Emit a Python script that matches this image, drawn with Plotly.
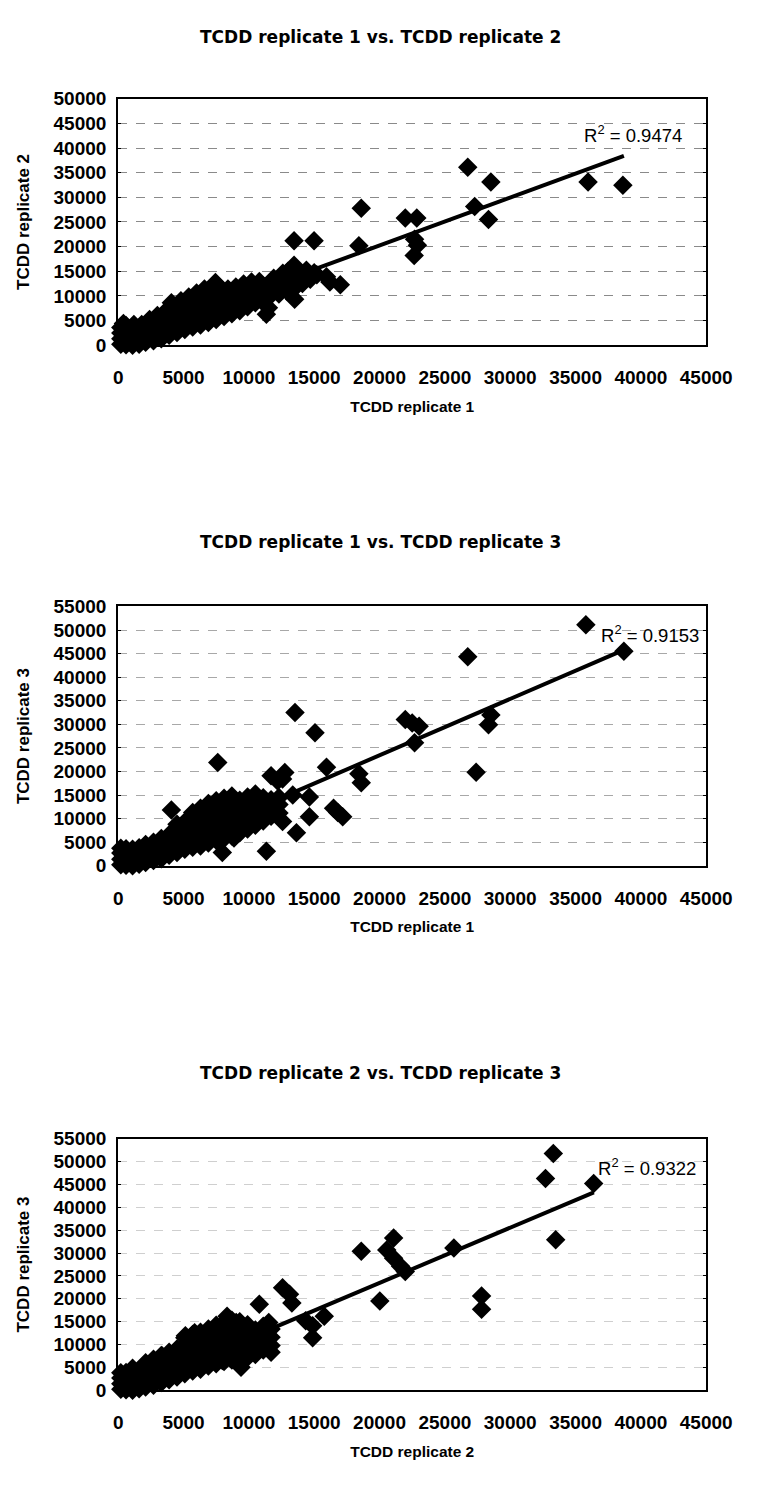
import plotly.graph_objects as go

W, H = 761, 1487

# ---------------- data ----------------
titles = ["TCDD replicate 1 vs. TCDD replicate 2",
          "TCDD replicate 1 vs. TCDD replicate 3",
          "TCDD replicate 2 vs. TCDD replicate 3"]
x_titles = ["TCDD replicate 1", "TCDD replicate 1", "TCDD replicate 2"]
y_titles = ["TCDD replicate 2", "TCDD replicate 3", "TCDD replicate 3"]
r2_values = ["0.9474", "0.9153", "0.9322"]
x_max = [45000, 45000, 45000]
y_max = [50000, 55000, 55000]

# replicate 1 (x) vs replicate 2 (y)
rep1_vs_rep2 = [
    (200, 200), (200, 1300), (200, 2500), (200, 3600), (400, 4400),
    (600, 100), (600, 1100), (600, 2200), (600, 3300), (600, 4000),
    (1100, 0), (1100, 900), (1100, 2000), (1100, 3200), (1200, 4200),
    (1600, 200), (1600, 1300), (1600, 2600), (1800, 4200),
    (2100, 600), (2100, 1700), (2100, 2900), (2100, 3900), (2400, 5200),
    (2700, 900), (2700, 2100), (2700, 3300), (2700, 4500), (3000, 6000),
    (3300, 1300), (3300, 2600), (3300, 3800), (3300, 5200), (3600, 6800),
    (3900, 2000), (3900, 3200), (3900, 4600), (3900, 6200), (4070, 8600),
    (4500, 2600), (4500, 3800), (4500, 5100), (4500, 6600), (4500, 7600), (4800, 9000),
    (5100, 3200), (5100, 4400), (5100, 5800), (5100, 7200), (5100, 8600), (5400, 9800),
    (5700, 3700), (5700, 5000), (5700, 6300), (5700, 7700), (5700, 9400), (6000, 10600),
    (6300, 4100), (6300, 5500), (6300, 6900), (6300, 8300), (6300, 9900), (6600, 11400),
    (6900, 4600), (6900, 6000), (6900, 7400), (6900, 8800), (6900, 10500), (7200, 11800),
    (7500, 5200), (7500, 6600), (7500, 8000), (7500, 9500), (7500, 11000), (7440, 12700),
    (8100, 5800), (8100, 7200), (8100, 8600), (8100, 10000), (7800, 11600),
    (8700, 6400), (8700, 7800), (8700, 9200), (8700, 10500), (8400, 11400),
    (9300, 7000), (9300, 8400), (9300, 9800), (9300, 11200), (9000, 11800),
    (9900, 7800), (9900, 9200), (9900, 10600), (9900, 11800), (9600, 12400),
    (10500, 8600), (10500, 10000), (10500, 11300), (10300, 12200), (10200, 12800),
    (11100, 9400), (11100, 10700), (11100, 12000), (10800, 12900),
    (11700, 10200), (11700, 11500), (11700, 12800), (11900, 13600),
    (12300, 10400), (12300, 11800), (12300, 13200), (12600, 14600),
    (12900, 11000), (12900, 12400), (12900, 13800), (13000, 15000),
    (13500, 9300), (13500, 11600), (13500, 13000), (13500, 14600), (13500, 15700),
    (14100, 12500), (14100, 14000), (14400, 15200), (14700, 13400), (15000, 14700),
    (11340, 6290), (11500, 7600), (13460, 16200), (13640, 14900), (15200, 14300),
    (15940, 13900), (16200, 12800), (17000, 12250), (18420, 20200), (13460, 21200),
    (14990, 21200), (18600, 27800), (21970, 25800), (22850, 25800), (22680, 21500),
    (22900, 20300), (22650, 18200), (26750, 36100), (28520, 33100), (27280, 28140),
    (28340, 25490), (35960, 33100), (38620, 32440),
]

# replicate 1 (x) vs replicate 3 (y)
rep1_vs_rep3 = [
    (200, 200), (200, 1400), (200, 2700), (200, 3700),
    (600, 100), (600, 1200), (600, 2400), (600, 3600),
    (1100, 0), (1100, 1000), (1100, 2200), (1100, 3500),
    (1600, 300), (1600, 1500), (1600, 2800), (1600, 3800),
    (2100, 700), (2100, 1900), (2100, 3200), (2100, 4500),
    (2700, 1100), (2700, 2400), (2700, 3700), (2700, 5000),
    (3300, 1500), (3300, 2900), (3300, 4300), (3300, 5800),
    (3900, 2200), (3900, 3600), (3900, 5000), (3900, 6600), (4070, 11800),
    (4500, 2800), (4500, 4200), (4500, 5700), (4500, 7300), (4500, 8800),
    (5100, 3500), (5100, 4900), (5100, 6400), (5100, 8000), (5100, 9300),
    (5700, 3900), (5700, 5400), (5700, 7000), (5700, 8700), (5700, 10000), (5700, 11300),
    (6300, 4200), (6300, 5900), (6300, 7600), (6300, 9300), (6300, 10800), (6300, 12200),
    (6900, 4800), (6900, 6500), (6900, 8200), (6900, 9900), (6900, 11600), (6900, 13200),
    (7500, 5400), (7500, 7100), (7500, 8800), (7500, 10500), (7500, 12200), (7500, 13800),
    (8100, 5800), (8100, 7600), (8100, 9400), (8100, 11100), (8100, 12800), (8100, 14300),
    (8700, 6300), (8700, 8100), (8700, 9900), (8700, 11700), (8700, 13300), (8700, 14800),
    (9300, 7000), (9300, 8800), (9300, 10500), (9300, 12300), (9300, 13900),
    (9900, 7800), (9900, 9500), (9900, 11200), (9900, 12900), (9900, 14600),
    (10500, 8600), (10500, 10300), (10500, 12000), (10500, 13600), (10500, 15200),
    (11100, 9500), (11100, 11200), (11100, 12900), (11100, 14400),
    (11700, 10500), (11700, 12200), (11700, 14000),
    (12300, 11200), (12300, 13000), (12300, 14500),
    (7970, 2800), (8860, 5900), (11340, 3100), (13640, 7000), (12580, 9400),
    (14630, 10400), (16480, 12200), (17180, 10400), (16800, 11300), (13360, 15000),
    (14630, 14600), (12750, 19800), (11700, 19100), (12580, 18400), (12200, 18000),
    (15940, 20900), (18420, 19500), (18600, 17600), (7620, 21900), (15060, 28200),
    (13530, 32500), (21970, 31000), (22500, 30300), (23030, 29600), (22680, 26100),
    (26750, 44340), (27390, 19840), (28520, 32000), (28340, 29900), (35790, 51100),
    (38700, 45500),
]

# replicate 2 (x) vs replicate 3 (y)
rep2_vs_rep3 = [
    (200, 200), (200, 1400), (200, 2700), (200, 3800),
    (600, 100), (600, 1300), (600, 2600), (600, 3900),
    (1100, 0), (1100, 1200), (1100, 2500), (1100, 3800), (1100, 4800),
    (1600, 300), (1600, 1600), (1600, 2900), (1600, 4200),
    (2100, 700), (2100, 2000), (2100, 3400), (2100, 4800), (2100, 6000),
    (2700, 1100), (2700, 2500), (2700, 3900), (2700, 5400), (2700, 6800),
    (3300, 1700), (3300, 3100), (3300, 4600), (3300, 6100), (3300, 7600),
    (3900, 2300), (3900, 3700), (3900, 5200), (3900, 6800), (3900, 8300),
    (4500, 2900), (4500, 4400), (4500, 5900), (4500, 7500), (4500, 9000),
    (5100, 3600), (5100, 5100), (5100, 6700), (5100, 8300), (5100, 9900), (5100, 11500),
    (5700, 4200), (5700, 5700), (5700, 7300), (5700, 8900), (5700, 10500), (5700, 12200),
    (6300, 4600), (6300, 6200), (6300, 7800), (6300, 9500), (6300, 11100), (6300, 12700),
    (6900, 5300), (6900, 6900), (6900, 8500), (6900, 10100), (6900, 11800), (6900, 13400),
    (7500, 5800), (7500, 7400), (7500, 9100), (7500, 10800), (7500, 12500), (7500, 14200),
    (8100, 6300), (8100, 8000), (8100, 9700), (8100, 11400), (8100, 13100), (8100, 14800),
    (8700, 6600), (8700, 8400), (8700, 10200), (8700, 12000), (8700, 13700), (8700, 15300),
    (9300, 6000), (9300, 8000), (9300, 9900), (9300, 11800), (9300, 13600), (9300, 15000),
    (9900, 7200), (9900, 9000), (9900, 10800), (9900, 12600), (9900, 14300),
    (10500, 7800), (10500, 9600), (10500, 11400), (10500, 13200),
    (11100, 8800), (11100, 10600), (11100, 12400), (11100, 14000),
    (11700, 9800), (11700, 11600), (11700, 13400),
    (33300, 51800), (32700, 46300), (33480, 32900), (36390, 45200), (25690, 31100),
    (27810, 20600), (27810, 17700), (20020, 19500), (18600, 30400), (21080, 33300),
    (20550, 30700), (21080, 28900), (21610, 27100), (21970, 26000), (12580, 22400),
    (13110, 21000), (13290, 19100), (10800, 18800), (15770, 16200), (14880, 14100),
    (14880, 11500), (14350, 15200), (11520, 14800), (11700, 8300), (9400, 5000),
    (7970, 6500), (3370, 7500), (5850, 12600), (5140, 11900), (8330, 16200),
    (9030, 14800), (6900, 8300),
]
panel_data = [rep1_vs_rep2, rep1_vs_rep3, rep2_vs_rep3]

# linear trend line end points
trend_x = [[0, 38700], [0, 38700], [0, 36400]]
trend_y = [[800, 38400], [-500, 45800], [-700, 43300]]

# ---------------- layout (pixels) ----------------
plot_left, plot_right = 118, 731
plot_tops = [90, 605, 1145]
plot_bottoms = [340, 868, 1400]
title_ys = [27, 540, 1078]
r2_pos = [(708, 126), (726, 633), (722, 1174)]
grid_colors = ["#8a8a8a", "#a8a8a8", "#cfcfcf"]

FONT = "Liberation Sans, Arial, sans-serif"
TITLE_FONT = "DejaVu Sans, sans-serif"

def px_x(p):
    return p / W

def px_y(p):
    return 1 - p / H

fig = go.Figure()
annotations = []
layout = {}
for i in range(3):
    sfx = "" if i == 0 else str(i + 1)
    xs = [p[0] for p in panel_data[i]]
    ys = [p[1] for p in panel_data[i]]
    fig.add_trace(go.Scatter(
        x=xs, y=ys, mode="markers", xaxis="x" + sfx, yaxis="y" + sfx,
        marker=dict(symbol="diamond", size=15, color="black", line=dict(width=0)),
        cliponaxis=False, showlegend=False, hoverinfo="x+y"))
    fig.add_trace(go.Scatter(
        x=trend_x[i], y=trend_y[i], mode="lines", xaxis="x" + sfx, yaxis="y" + sfx,
        line=dict(color="black", width=4), cliponaxis=True, showlegend=False))

    layout["xaxis" + sfx] = dict(
        domain=[px_x(plot_left), px_x(plot_right)], anchor="y" + sfx,
        range=[0, x_max[i]], dtick=5000, tick0=0, showgrid=False, zeroline=False,
        showline=True, linecolor="black", linewidth=2, mirror=True, ticks="",
        tickformat="d", ticklabelstandoff=14,
        tickfont=dict(family=FONT, size=19, color="black", weight="bold"),
        title=dict(text="<b>" + x_titles[i] + "</b>", standoff=14,
                   font=dict(family=FONT, size=15.5, color="black")))
    layout["yaxis" + sfx] = dict(
        domain=[px_y(plot_bottoms[i]), px_y(plot_tops[i])], anchor="x" + sfx,
        range=[0, y_max[i]], dtick=5000, tick0=0, showgrid=True,
        gridcolor=grid_colors[i], griddash="dash", gridwidth=1, zeroline=False,
        showline=True, linecolor="black", linewidth=2, mirror="ticks",
        ticks="inside", ticklen=3, tickcolor="black", tickformat="d",
        ticklabelstandoff=6,
        tickfont=dict(family=FONT, size=19, color="black", weight="bold"),
        title=dict(text="<b>" + y_titles[i] + "</b>", standoff=20,
                   font=dict(family=FONT, size=17, color="black")))

    annotations.append(dict(
        text="<b>" + titles[i] + "</b>", xref="paper", yref="paper",
        x=px_x(391), y=px_y(title_ys[i]),
        xanchor="center", yanchor="middle", showarrow=False,
        font=dict(family=TITLE_FONT, size=17, color="black")))
    annotations.append(dict(
        text="R<sup>2</sup> = " + r2_values[i], xref="paper", yref="paper",
        x=px_x(r2_pos[i][0]), y=px_y(r2_pos[i][1]),
        xanchor="right", yanchor="middle", showarrow=False,
        font=dict(family=FONT, size=18.5, color="black")))

fig.update_layout(
    width=W, height=H, margin=dict(l=0, r=0, t=0, b=0),
    paper_bgcolor="white", plot_bgcolor="white",
    annotations=annotations, **layout)

fig.write_html("out.html")
